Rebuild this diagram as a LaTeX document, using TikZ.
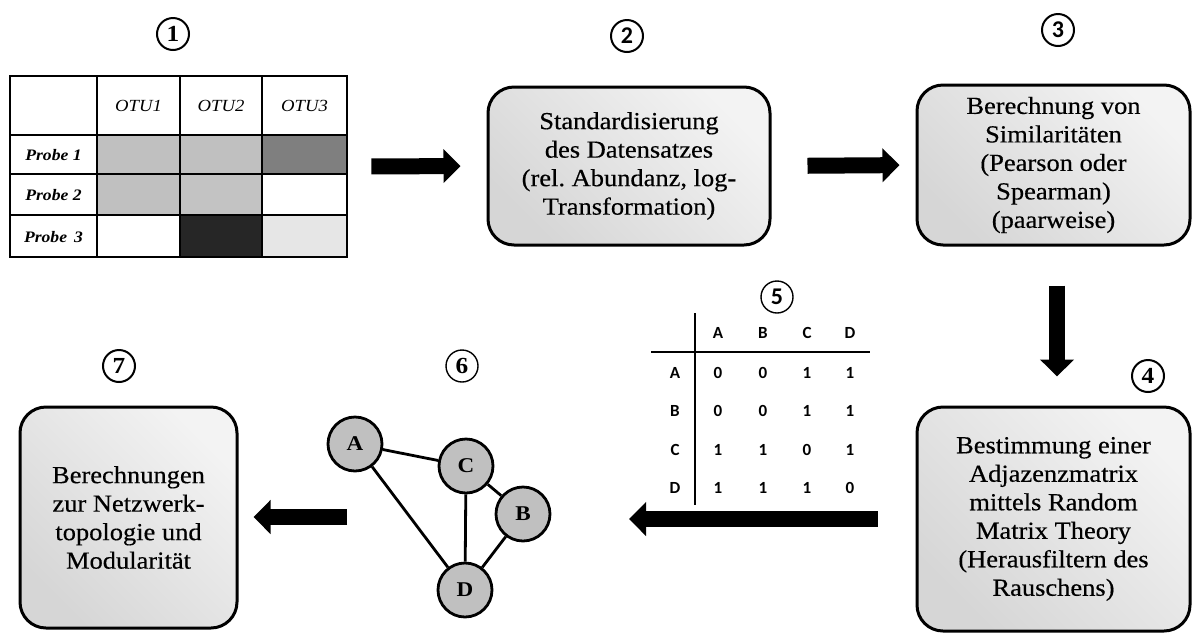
\documentclass[tikz,border=0pt]{standalone}
\usepackage{fontspec}
\setmainfont{Liberation Serif}[FakeStretch=1.1]
\newfontfamily\boxfont{Liberation Serif}[FakeStretch=1.08, FakeBold=0.4]
\newfontfamily\calib{Carlito}
\usetikzlibrary{arrows.meta}
\definecolor{cellA}{HTML}{C0C0C0}
\definecolor{cellB}{HTML}{7F7F7F}
\definecolor{cellC}{HTML}{262626}
\definecolor{cellD}{HTML}{E6E6E6}
\definecolor{boxdark}{HTML}{D6D6D6}
\definecolor{boxlight}{HTML}{F3F3F3}
\definecolor{nodegray}{HTML}{C0C0C0}
\frenchspacing
\begin{document}
\begin{tikzpicture}[x=1pt,y=-1pt,
  proc/.style={draw, line width=3pt, rounded corners=26pt,
    top color=boxdark, bottom color=boxlight, shading angle=135,
    align=center, inner sep=0pt,
    font=\boxfont\fontsize{24.5}{28.5}\selectfont},
  bigarrow/.style={line width=16pt, -{Triangle[width=33pt,length=17pt]}},
  numc/.style={circle, draw, line width=2pt, minimum size=32pt, inner sep=0pt,
    font=\bfseries\fontsize{23}{23}\selectfont},
  numsans/.style={numc, font=\calib\bfseries\fontsize{24}{24}\selectfont},
  gnode/.style={circle, draw, line width=2.8pt, fill=nodegray, minimum size=54pt,
    inner sep=0pt, font=\bfseries\fontsize{21}{21}\selectfont},
  gedge/.style={line width=2.8pt},
  otu/.style={font=\itshape\fontsize{17}{17}\selectfont},
  probe/.style={font=\bfseries\itshape\fontsize{16}{16}\selectfont},
  mtx/.style={font=\calib\bfseries\fontsize{17}{17}\selectfont},
  grid1/.style={line width=2.8pt}
]
\useasboundingbox (0,0) rectangle (1192,633);

% ---------- step 1: table ----------
\fill[cellA] (97,135) rectangle (180,174);
\fill[cellA] (180,135) rectangle (262,174);
\fill[cellB] (262,135) rectangle (347,174);
\fill[cellA] (97,174) rectangle (180,215);
\fill[cellA!95!white] (180,174) rectangle (262,215);
\fill[cellC] (180,215) rectangle (262,257);
\fill[cellD] (262,215) rectangle (347,257);
\node[draw, grid1, minimum width=337pt, minimum height=181pt, inner sep=0pt] (tab) at (178.5,166.5) {};
\draw[grid1] (97,76) -- (97,257) (180,76) -- (180,257) (262,76) -- (262,257);
\draw[grid1] (10,135) -- (347,135) (10,174) -- (347,174) (10,215) -- (347,215);
\node[otu] (o1) at (138.5,106) {OTU1};
\node[otu] (o2) at (221,106) {OTU2};
\node[otu] (o3) at (304.5,106) {OTU3};
\node[probe] (p1) at (53.5,155) {Probe 1};
\node[probe] (p2) at (53.5,195) {Probe 2};
\node[probe] (p3) at (53.5,237) {Probe \,3};

% ---------- numbers ----------
\node[numc] (n1) at (173,34) {1};
\node[numsans] (n2) at (627,36) {2};
\node[numsans] (n3) at (1058,30) {3};
\node[numc] (n4) at (1148,376) {4};
\node[numsans, line width=1.4pt] (n5) at (777,297) {5};
\node[numc, line width=1.4pt] (n6) at (462,366) {6};
\node[numc] (n7) at (119,366) {7};

% ---------- process boxes ----------
\node[proc, minimum width=282pt, minimum height=158pt] (box2) at (629,166)
  {Standardisierung\\des Datensatzes\\(rel. Abundanz, log-\\Transformation)};
\node[proc, minimum width=273pt, minimum height=160pt] (box3) at (1053.5,165)
  {Berechnung von\\Similaritäten\\(Pearson oder\\Spearman)\\(paarweise)};
\node[proc, minimum width=273pt, minimum height=224pt] (box4) at (1053.5,519)
  {Bestimmung einer\\Adjazenzmatrix\\mittels Random\\Matrix Theory\\(Herausfiltern des\\Rauschens)};
\node[proc, minimum width=217pt, minimum height=221pt] (box7) at (128.5,517.5)
  {Berechnungen\\zur Netzwerk-\\topologie und\\Modularität};

% ---------- step 5: adjacency matrix ----------
\coordinate (m5t) at (695,313);
\coordinate (m5b) at (695,505);
\coordinate (m5l) at (651,352);
\coordinate (m5r) at (870,352);
\draw[line width=2.2pt] (m5t) -- (m5b);
\draw[line width=2.2pt] (m5l) -- (m5r);
\node[mtx] (hA) at (718,333) {A};
\node[mtx] (hB) at (763,333) {B};
\node[mtx] (hC) at (807,333) {C};
\node[mtx] (hD) at (850,333) {D};
\node[mtx] (rA) at (675,373) {A};
\node[mtx] (rB) at (675,411) {B};
\node[mtx] (rC) at (675,450) {C};
\node[mtx] (rD) at (675,488) {D};
\node[mtx] at (718,373) {0}; \node[mtx] at (763,373) {0}; \node[mtx] at (807,373) {1}; \node[mtx] at (850,373) {1};
\node[mtx] at (718,411) {0}; \node[mtx] at (763,411) {0}; \node[mtx] at (807,411) {1}; \node[mtx] at (850,411) {1};
\node[mtx] at (718,450) {1}; \node[mtx] at (763,450) {1}; \node[mtx] at (807,450) {0}; \node[mtx] at (850,450) {1};
\node[mtx] at (718,488) {1}; \node[mtx] at (763,488) {1}; \node[mtx] at (807,488) {1}; \node[mtx] at (850,488) {0};

% ---------- step 6: graph ----------
\node[gnode] (gA) at (355,444) {A};
\node[gnode] (gC) at (466,466) {C};
\node[gnode] (gB) at (523,514) {B};
\node[gnode] (gD) at (465,590) {D};
\draw[gedge] (gA) -- (gC);
\draw[gedge] (gA) -- (gD);
\draw[gedge] (gC) -- (gB);
\draw[gedge] (gC) -- (gD);
\draw[gedge] (gB) -- (gD);

% ---------- arrows ----------
\coordinate (a5end) at (629,518);
\coordinate (a7start) at (347,517);
\draw[bigarrow, shorten <=23pt, shorten >=26pt] (tab.east) -- (box2.west);
\draw[bigarrow, shorten <=36pt, shorten >=16pt] (box2.east) -- (box3.west);
\draw[bigarrow, shorten <=39pt, shorten >=29pt] ([xshift=3.5pt]box3.south) -- ([xshift=3.5pt]box4.north);
\draw[bigarrow, shorten <=38pt] (box4.west) -- (box4.west -| a5end);
\draw[bigarrow, shorten >=15pt] (a7start) -- (a7start -| box7.east);
\end{tikzpicture}
\end{document}
